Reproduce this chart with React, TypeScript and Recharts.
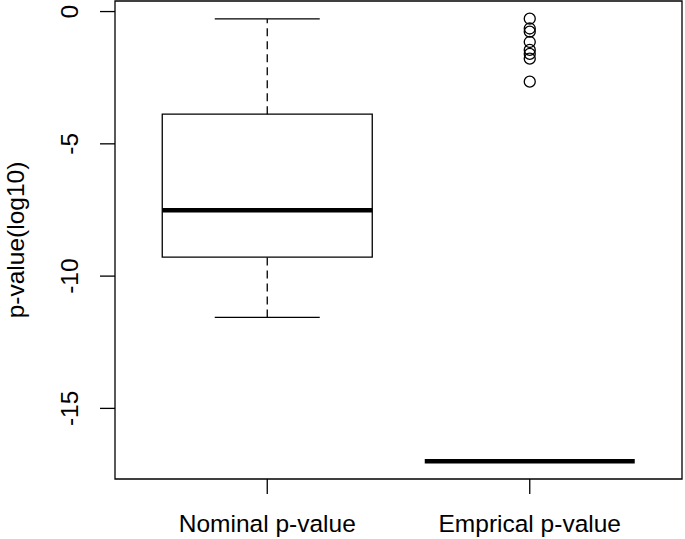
import React from 'react'
import {
  ComposedChart,
  XAxis,
  YAxis,
  Scatter,
  ReferenceArea,
  ReferenceLine,
  Label,
} from 'recharts'

// box stats (log10 p-values)
const groups = ['Nominal p-value', 'Emprical p-value']
const lowerWhisker = [-11.56, -17]
const lowerQuartile = [-9.28, -17]
const medians = [-7.51, -17]
const upperQuartile = [-3.88, -17]
const upperWhisker = [-0.28, -17]

// outliers of the second group
const empiricalOutliers = [-0.27, -0.64, -0.76, -1.15, -1.45, -1.6, -1.78, -2.65]

const yTicks = [0, -5, -10, -15]

const FONT = '"Liberation Sans", Arial, sans-serif'
const FONT_SIZE = 24.5
const INK = '#000000'
const BOX_HALF = 0.4
const CAP_HALF = 0.2

const outlierPoints = empiricalOutliers.map((v) => ({ x: 2, y: v }))

// R style axis extension (4%)
const allValues = [...lowerWhisker, ...upperWhisker, ...empiricalOutliers]
const yLo = Math.min(...allValues)
const yHi = Math.max(...allValues)
const yPad = (yHi - yLo) * 0.04
const yDomain = [yLo - yPad, yHi + yPad]
const xPad = groups.length * 0.04
const xDomain = [0.5 - xPad, groups.length + 0.5 + xPad]

const YTick = (props: any) => {
  const { x, y, payload } = props
  const tx = x - 22
  return (
    <text
      x={tx}
      y={y}
      transform={`rotate(-90 ${tx} ${y})`}
      textAnchor="middle"
      fontFamily={FONT}
      fontSize={FONT_SIZE}
      fill={INK}
    >
      {payload.value}
    </text>
  )
}

const XTick = (props: any) => {
  const { x, y, payload } = props
  return (
    <text x={x} y={y + 38} textAnchor="middle" fontFamily={FONT} fontSize={FONT_SIZE} fill={INK}>
      {groups[payload.value - 1]}
    </text>
  )
}

const Ring = (props: any) => {
  const { cx, cy } = props
  return <circle cx={cx} cy={cy} r={5.5} fill="none" stroke={INK} strokeWidth={1.3} />
}

export default function App() {
  return (
    <div style={{ position: 'absolute', left: 0, top: 0, background: '#fff' }}>
      <ComposedChart width={685} height={539} margin={{ top: 1, right: 3, bottom: 0, left: 0 }}>
        <XAxis
          type="number"
          dataKey="x"
          domain={xDomain}
          ticks={[1, 2]}
          axisLine={false}
          tickSize={15}
          tickMargin={0}
          tickLine={{ stroke: INK, strokeWidth: 1.3 }}
          tick={<XTick />}
          height={60}
          allowDataOverflow
        />
        <YAxis
          type="number"
          dataKey="y"
          domain={yDomain}
          ticks={yTicks}
          axisLine={false}
          tickSize={15}
          tickMargin={0}
          tickLine={{ stroke: INK, strokeWidth: 1.3 }}
          tick={<YTick />}
          width={115}
          allowDataOverflow
        >
          <Label
            content={(p: any) => {
              const vb = p.viewBox || {}
              const cy = (vb.y ?? 1) + (vb.height ?? 478) / 2
              const tx = 24
              return (
                <text
                  x={tx}
                  y={cy}
                  transform={`rotate(-90 ${tx} ${cy})`}
                  textAnchor="middle"
                  fontFamily={FONT}
                  fontSize={FONT_SIZE}
                  fill={INK}
                >
                  p-value(log10)
                </text>
              )
            }}
          />
        </YAxis>

        {/* plot frame */}
        <ReferenceArea
          x1={xDomain[0]}
          x2={xDomain[1]}
          y1={yDomain[0]}
          y2={yDomain[1]}
          fill="none"
          stroke={INK}
          strokeWidth={1.3}
          ifOverflow="visible"
        />

        {groups.map((g, i) => {
          const c = i + 1
          return (
            <React.Fragment key={g}>
              {/* whiskers */}
              <ReferenceLine
                segment={[{ x: c, y: lowerWhisker[i] }, { x: c, y: lowerQuartile[i] }]}
                stroke={INK}
                strokeWidth={1.3}
                strokeDasharray="8 5"
              />
              <ReferenceLine
                segment={[{ x: c, y: upperQuartile[i] }, { x: c, y: upperWhisker[i] }]}
                stroke={INK}
                strokeWidth={1.3}
                strokeDasharray="8 5"
              />
              {/* staples */}
              <ReferenceLine
                segment={[{ x: c - CAP_HALF, y: lowerWhisker[i] }, { x: c + CAP_HALF, y: lowerWhisker[i] }]}
                stroke={INK}
                strokeWidth={1.3}
              />
              <ReferenceLine
                segment={[{ x: c - CAP_HALF, y: upperWhisker[i] }, { x: c + CAP_HALF, y: upperWhisker[i] }]}
                stroke={INK}
                strokeWidth={1.3}
              />
              {/* box */}
              <ReferenceArea
                x1={c - BOX_HALF}
                x2={c + BOX_HALF}
                y1={lowerQuartile[i]}
                y2={upperQuartile[i]}
                fill="#ffffff"
                fillOpacity={1}
                stroke={INK}
                strokeWidth={1.3}
              />
              {/* median */}
              <ReferenceLine
                segment={[{ x: c - BOX_HALF, y: medians[i] }, { x: c + BOX_HALF, y: medians[i] }]}
                stroke={INK}
                strokeWidth={4.5}
              />
            </React.Fragment>
          )
        })}

        <Scatter data={outlierPoints} dataKey="y" shape={<Ring />} isAnimationActive={false} />
      </ComposedChart>
    </div>
  )
}
